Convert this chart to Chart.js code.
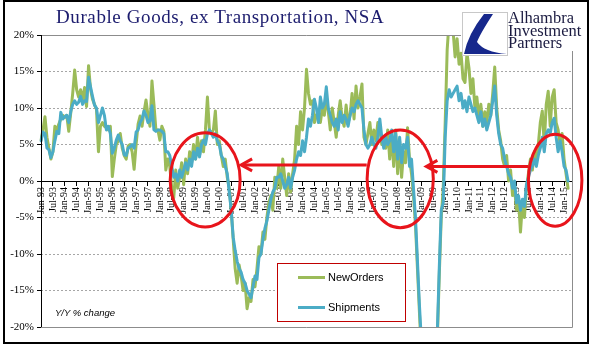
<!DOCTYPE html>
<html>
<head>
<meta charset="utf-8">
<script src="https://cdn.jsdelivr.net/npm/chart.js@4.4.1/dist/chart.umd.min.js"></script>
<style>
  html, body { margin: 0; padding: 0; background: #fff; }
  #wrap { position: relative; width: 596px; height: 358px; overflow: hidden; }
  #chart { position: absolute; left: 0; top: 0; }
  .frame { position: absolute; left: 3px; top: 0; width: 582px; height: 340px; border: 2px solid #000; pointer-events: none; }
  .title { position: absolute; left: 56px; top: 6px; font: 19px "Liberation Serif", serif; letter-spacing: 0.6px; color: #1c1c6e; white-space: nowrap; }
  .logo { position: absolute; left: 461px; top: 2px; width: 124px; height: 49px; background: #fff; }
  .logo svg { position: absolute; left: 1px; top: 10px; }
  .logo .name { position: absolute; left: 47px; top: 10px; font: 16.5px/12.7px "Liberation Serif", serif; color: #1a1a40; white-space: nowrap; }
  .legend { position: absolute; left: 277px; top: 263px; width: 127px; height: 57px; border: 1px solid #c00000; background: #fff; }
  .legend .item { position: absolute; left: 20px; font: 11px "Liberation Sans", Arial, sans-serif; color: #000; white-space: nowrap; }
  .legend .swatch { display: inline-block; width: 27px; height: 3px; vertical-align: middle; margin-right: 3px; position: relative; top: -1px; }
  .note { position: absolute; left: 55px; top: 307px; font: italic 9.5px "Liberation Sans", sans-serif; color: #000; }
</style>
</head>
<body>
<div id="wrap">
  <canvas id="chart" width="596" height="358"></canvas>
  <div class="frame"></div>
  <div class="title">Durable Goods, ex Transportation, NSA</div>
  <div class="logo">
    <svg width="46" height="44" viewBox="0 0 46 44">
      <rect x="0.5" y="0.5" width="45" height="43" fill="#fff" stroke="#c8c8c8"/>
      <path d="M22,2 L31,2 Q18,22 15,30 Q22,40 45,42 L2,42 Q6,22 22,2 Z" fill="#17288c"/>
    </svg>
    <div class="name">Alhambra<br>Investment<br>Partners</div>
  </div>
  <div class="legend">
    <div class="item" style="top:7px"><span class="swatch" style="background:#9bbb59"></span>NewOrders</div>
    <div class="item" style="top:37px"><span class="swatch" style="background:#4bacc6"></span>Shipments</div>
  </div>
  <div class="note">Y/Y % change</div>
</div>
<script>
// ============================================
// DATA (monthly, Jan-93 .. Mar-15, y/y % change)
// ============================================
const startYear = 1993;
const axisMonths = 269; // axis runs Jan-93 .. May-15
const monthNames = ['Jan', 'Feb', 'Mar', 'Apr', 'May', 'Jun', 'Jul', 'Aug', 'Sep', 'Oct', 'Nov', 'Dec'];

const newOrders = [
  5.6, 7.0, 8.8, 6.0, 4.5, 3.0, 4.0, 7.5, 7.0, 7.8, 8.5, 9.0,            // 1993
  8.7, 9.0, 6.8, 9.3, 12.0, 15.2, 12.5, 11.5, 12.5, 11.0, 12.8, 10.2,    // 1994
  15.8, 12.6, 11.2, 10.5, 9.8, 4.0, 7.5, 8.0, 7.5, 7.3, 7.0, 7.5,        // 1995
  0.6, 3.0, 5.0, 5.5, 6.5, 4.5, 3.5, 3.0, 4.8, 5.0, 4.0, 1.6,            // 1996
  5.0, 7.8, 8.9, 7.5, 9.5, 11.1, 9.0, 7.5, 13.7, 10.5, 7.0, 7.0,         // 1997
  5.6, 7.5, 6.8, 1.5, 3.0, 2.0, -1.0, -2.3, 1.5, -1.0, 0.5, 2.5,         // 1998
  -0.5, 3.0, 1.0, 4.0, 2.5, 5.0, 3.0, 6.0, 3.5, 5.5, 4.0, 7.0,           // 1999
  11.5, 7.0, 6.5, 7.0, 9.6, 5.0, 5.5, 3.5, 2.0, 3.0, 0.5, -1.0,          // 2000
  -4.0, -8.0, -12.0, -14.0, -11.5, -13.0, -15.0, -14.0, -17.5, -16.0, -16.5, -13.5, // 2001
  -14.5, -12.0, -9.0, -10.0, -7.0, -8.0, -5.0, -3.0, -2.0, -4.0, 0.5, -1.0,         // 2002
  2.0, -1.0, 3.0, 0.5, -2.0, 1.0, -1.5, 1.0, 3.0, 7.5, 5.0, 9.5,         // 2003
  7.0, 10.0, 15.3, 12.0, 10.5, 11.0, 8.0, 9.0, 9.5, 8.0, 10.0, 9.0,      // 2004
  11.5, 9.5, 7.0, 10.0, 8.0, 6.0, 9.0, 11.0, 8.5, 7.5, 10.4, 8.0,        // 2005
  9.0, 12.0, 8.5, 13.0, 10.0, 11.5, 13.3, 6.0, 5.0, 6.5, 8.0, 5.0,       // 2006
  7.0, 5.5, 8.0, 7.0, 5.0, 6.0, 4.5, 7.0, 3.0, 6.5, 2.0, 7.0,            // 2007
  1.0, 5.5, 0.5, 4.0, 2.5, 7.3, 3.0, 1.0, -2.0, -6.0, -12.0, -18.0,      // 2008
  -24.0, -27.0, -30.0, -29.0, -31.0, -28.0, -27.0, -25.0, -22.0, -13.0, -5.0, -1.0, // 2009
  8.0, 18.0, 22.0, 21.0, 20.5, 17.0, 19.5, 16.0, 17.5, 14.0, 13.5, 17.5, // 2010
  15.5, 12.0, 14.0, 10.0, 11.5, 8.5, 10.5, 7.5, 9.5, 8.0, 10.5, 9.0,     // 2011
  12.0, 15.6, 10.0, 7.0, 5.5, 3.0, 2.0, 3.5, 0.0, 1.5, -2.0, -1.0,       // 2012
  -4.0, -2.5, -7.0, -3.0, -5.0, -1.0, 1.0, 3.0, 1.5, 4.0, 2.5, 5.0,      // 2013
  8.0, 9.6, 5.0, 10.5, 12.3, 7.5, 11.5, 12.5, 8.0, 7.0, 5.0, 6.5,        // 2014
  3.0, 1.0, -1.0                                                         // 2015
];

const shipments = [
  5.5, 6.7, 6.5, 4.5, 4.3, 3.2, 4.0, 5.5, 6.8, 6.5, 9.4, 8.5,            // 1993
  8.8, 9.0, 8.0, 9.5, 10.5, 11.0, 10.5, 10.8, 11.6, 10.5, 11.0, 10.9,    // 1994
  14.2, 12.9, 11.6, 10.4, 10.0, 8.0, 9.0, 10.0, 9.0, 7.0, 7.5, 6.5,      // 1995
  3.8, 4.5, 5.6, 6.3, 5.5, 5.0, 3.6, 3.5, 4.5, 4.7, 5.0, 4.5,            // 1996
  6.7, 7.0, 8.0, 8.5, 9.6, 9.0, 8.0, 8.2, 10.3, 7.0, 6.8, 7.0,           // 1997
  7.0, 6.8, 6.5, 4.0, 4.0, 3.5, 2.0, 0.5, 1.0, 0.0, 1.5, 0.5,            // 1998
  1.5, 2.5, 1.5, 3.0, 2.0, 4.0, 3.0, 4.5, 3.3, 5.0, 5.6, 5.0,            // 1999
  6.5, 7.0, 6.5, 6.0, 6.5, 5.5, 5.0, 3.5, 3.0, 2.0, 1.0, -1.5,           // 2000
  -4.0, -7.7, -9.5, -11.0, -12.0, -12.5, -13.5, -14.0, -15.0, -15.5, -16.0, -14.5, // 2001
  -13.0, -13.5, -10.5, -10.0, -8.0, -6.5, -5.5, -4.0, -2.5, -1.5, -1.0, 0.5,       // 2002
  0.5, 1.0, 0.0, -1.0, -0.5, 0.5, -1.0, 0.5, 1.5, 3.0, 4.0, 3.5,         // 2003
  5.5, 4.0, 6.0, 8.5, 7.5, 9.0, 11.2, 10.0, 8.0, 11.5, 10.0, 10.5,       // 2004
  12.9, 10.0, 9.0, 8.0, 7.5, 8.5, 7.0, 9.5, 8.0, 9.0, 8.5, 7.5,          // 2005
  9.0, 10.0, 9.5, 10.5, 11.0, 10.5, 10.0, 7.0, 5.0, 4.5, 5.0, 6.0,       // 2006
  5.0, 4.5, 6.0, 8.5, 6.0, 4.5, 6.0, 5.0, 5.5, 7.0, 4.0, 6.5,            // 2007
  3.0, 6.0, 2.5, 5.0, 4.5, 6.0, 2.0, 3.0, -1.0, -5.0, -11.0, -17.0,      // 2008
  -22.0, -26.0, -28.0, -29.0, -28.0, -27.0, -25.0, -24.0, -21.0, -12.0, -4.0, -3.0, // 2009
  6.0, 11.0, 12.5, 11.5, 12.0, 12.5, 13.0, 11.0, 12.0, 10.0, 11.0, 9.5,  // 2010
  11.5, 10.5, 9.5, 10.0, 9.0, 8.0, 9.5, 7.5, 8.5, 7.0, 8.0, 9.0,         // 2011
  11.0, 13.0, 9.0, 6.5, 5.0, 4.5, 3.0, 2.0, 1.0, 0.5, -1.0, 0.0,         // 2012
  -3.0, -2.0, -4.0, -2.5, -3.5, -0.5, 0.5, 1.5, 2.0, 3.0, 2.0, 3.5,      // 2013
  4.5, 6.0, 4.0, 6.5, 7.0, 6.5, 8.0, 8.6, 6.0, 4.0, 5.5, 4.0,            // 2014
  2.0, 1.5, 0.0                                                          // 2015
];

const months = [];
for (let i = 0; i < axisMonths; i++) {
  const yr = (startYear + Math.floor(i / 12)) % 100;
  months.push(monthNames[i % 12] + '-' + String(yr).padStart(2, '0'));
}

// ============================================
// ANNOTATIONS (red circles + arrows), in chart units
// ============================================
const circleMarks = [
  { from: 65.2, to: 100.5, low: -6.3, high: 6.6 },
  { from: 164.6, to: 198.0, low: -6.4, high: 7.0 },
  { from: 246.0, to: 273.0, low: -6.2, high: 6.4 }
];
const arrowMarks = [
  { tip: 101.0, tail: 164.4, level: 2.2 },
  { tip: 194.5, tail: 246.0, level: 2.0 }
];

const decorPlugin = {
  id: 'decor',
  afterDatasetsDraw(chart) {
    const { ctx, chartArea: a, scales: { x, y } } = chart;
    ctx.save();
    // plot frame
    ctx.lineWidth = 1;
    ctx.strokeStyle = '#8c8c8c';
    ctx.beginPath();
    ctx.moveTo(a.left, Math.round(y.getPixelForValue(20)) + 0.5);
    ctx.lineTo(a.right + 0.5, Math.round(y.getPixelForValue(20)) + 0.5);
    ctx.lineTo(a.right + 0.5, Math.round(y.getPixelForValue(-20)) + 0.5);
    ctx.lineTo(a.left, Math.round(y.getPixelForValue(-20)) + 0.5);
    ctx.stroke();
    ctx.strokeStyle = '#000';
    ctx.beginPath();
    ctx.moveTo(a.left + 0.5, y.getPixelForValue(20));
    ctx.lineTo(a.left + 0.5, y.getPixelForValue(-20));
    ctx.stroke();

    // red ellipses
    ctx.strokeStyle = '#e8141b';
    ctx.lineWidth = 3;
    circleMarks.forEach(c => {
      const x1 = x.getPixelForValue(c.from), x2 = x.getPixelForValue(c.to);
      const y1 = y.getPixelForValue(c.high), y2 = y.getPixelForValue(c.low);
      ctx.beginPath();
      ctx.ellipse((x1 + x2) / 2, (y1 + y2) / 2, (x2 - x1) / 2, (y2 - y1) / 2, 0, 0, Math.PI * 2);
      ctx.stroke();
    });

    // arrows pointing left
    arrowMarks.forEach(m => {
      const xt = x.getPixelForValue(m.tip), xe = x.getPixelForValue(m.tail);
      const yy = y.getPixelForValue(m.level);
      ctx.beginPath();
      ctx.moveTo(xe, yy);
      ctx.lineTo(xt + 1, yy);
      ctx.stroke();
      ctx.beginPath();
      ctx.moveTo(xt + 11, yy - 6);
      ctx.lineTo(xt, yy);
      ctx.lineTo(xt + 11, yy + 6);
      ctx.stroke();
    });
    ctx.restore();
  }
};

// ============================================
// CHART
// ============================================
new Chart(document.getElementById('chart'), {
  type: 'line',
  data: {
    labels: months,
    datasets: [
      { label: 'NewOrders', data: newOrders, borderColor: '#9bbb59', order: 1 },
      { label: 'Shipments', data: shipments, borderColor: '#4bacc6', order: 0 }
    ]
  },
  options: {
    responsive: false,
    animation: false,
    layout: { padding: { left: 0, right: 24, top: 35, bottom: 31 } },
    elements: {
      point: { radius: 0 },
      line: { tension: 0, borderWidth: 3, borderJoinStyle: 'round', borderCapStyle: 'round' }
    },
    plugins: { legend: { display: false }, tooltip: { enabled: false } },
    scales: {
      x: {
        type: 'category',
        position: { y: 0 },
        offset: false,
        border: { display: true, color: '#000', width: 1 },
        grid: { drawOnChartArea: false, drawTicks: true, tickLength: 4, color: '#000' },
        ticks: {
          autoSkip: false,
          minRotation: 90,
          maxRotation: 90,
          padding: 2,
          color: '#000',
          font: { family: 'Liberation Serif', size: 10 },
          callback: function (v, i) { return i % 6 === 0 ? this.getLabelForValue(v) : null; }
        }
      },
      y: {
        min: -20,
        max: 20,
        afterFit: s => { s.width = 41; },
        border: { display: false, dash: [2, 2] },
        grid: {
          color: c => (c.tick && (c.tick.value === 0 || Math.abs(c.tick.value) === 20)) ? 'rgba(0,0,0,0)' : '#a6a6a6',
          tickColor: '#000',
          tickLength: 4,
          tickBorderDash: []
        },
        ticks: {
          stepSize: 5,
          padding: 3,
          color: '#000',
          font: { family: 'Liberation Serif', size: 11 },
          callback: v => v + '%'
        }
      }
    }
  },
  plugins: [decorPlugin]
});
</script>
</body>
</html>
